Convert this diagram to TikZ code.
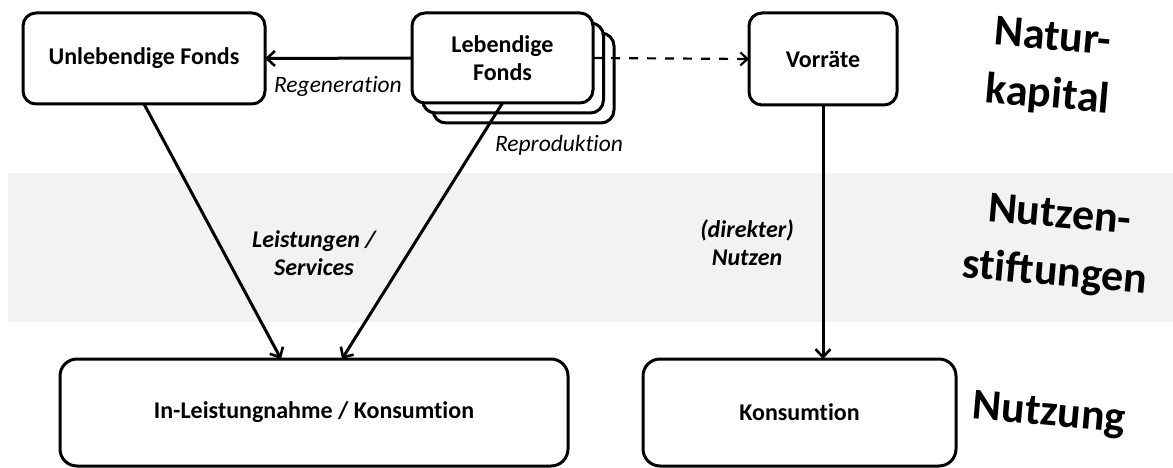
\documentclass[tikz,border=0pt]{standalone}
\usepackage{fontspec}
\setmainfont{Carlito}[Ligatures=NoCommon]
\usetikzlibrary{arrows.meta,calc}
\begin{document}
\begin{tikzpicture}[x=1pt,y=1pt,
  box/.style={draw=black,line width=3pt,rounded corners=13pt,fill=white,outer sep=0pt,inner sep=0pt,
    font=\fontsize{24}{27.5}\selectfont\bfseries,align=center},
  bigbox/.style={box,rounded corners=17pt},
  arr/.style={line width=3pt,-{Straight Barb[length=8pt,width=15pt,line width=2.6pt]}},
  darr/.style={line width=2.2pt,dash pattern=on 9pt off 9pt,-{Straight Barb[length=7pt,width=13pt,line width=2.2pt]}},
  lbl/.style={font=\fontsize{23.5}{27.5}\selectfont\itshape,align=center,inner sep=0pt},
  blbl/.style={font=\fontsize{24}{28}\selectfont\bfseries\itshape,align=center,inner sep=0pt},
  head/.style={font=\fontsize{44}{58}\selectfont\bfseries,align=center,rotate=-5,inner sep=0pt},
]
\useasboundingbox (0,0) rectangle (1173,-468);
% band
\fill[black!5] (8,-173) rectangle (1173,-322);
% boxes
\node[box,minimum width=242pt,minimum height=91pt] (U) at (144,-58.5) {Unlebendige Fonds};
\node[box,minimum width=181pt,minimum height=90pt] (L3) at (523.5,-78) {};
\node[box,minimum width=181pt,minimum height=90pt] (L2) at (513,-68) {};
\node[box,minimum width=181pt,minimum height=90pt] (L) at (502.5,-58) {Lebendige\\Fonds};
\node[box,minimum width=148pt,minimum height=92pt] (V) at (823,-59) {Vorräte};
\node[bigbox,minimum width=508pt,minimum height=107pt] (IL) at (314,-412.5) {In-Leistungnahme / Konsumtion};
\node[bigbox,minimum width=313pt,minimum height=107pt] (K) at (799.5,-412.5) {Konsumtion};
% connectors
\draw[arr] (L.west) -- (U.east);
\draw[darr] (L.east) -- (V.west);
\draw[arr] (U.south) -- ([xshift=-33pt]IL.north);
\draw[arr] (L.south) -- ([xshift=28pt]IL.north);
\draw[arr] (V.south) -- (V.south |- K.north);
% labels
\node[lbl,anchor=east] (reg) at (402,-86) {Regeneration};
\node[lbl] (rep) at (559,-145) {Reproduktion};
\node[blbl] (leis) at (314,-253) {Leistungen /\\Services};
\node[blbl] (dir) at (747,-243) {(direkter)\\Nutzen};
% headings
\node[head] (h1) at (1050,-68) {Natur-\\kapital};
\node[head] (h2) at (1057,-246) {Nutzen-\\stiftungen};
\node[head] (h3) at (1049,-415) {Nutzung};
\end{tikzpicture}
\end{document}
